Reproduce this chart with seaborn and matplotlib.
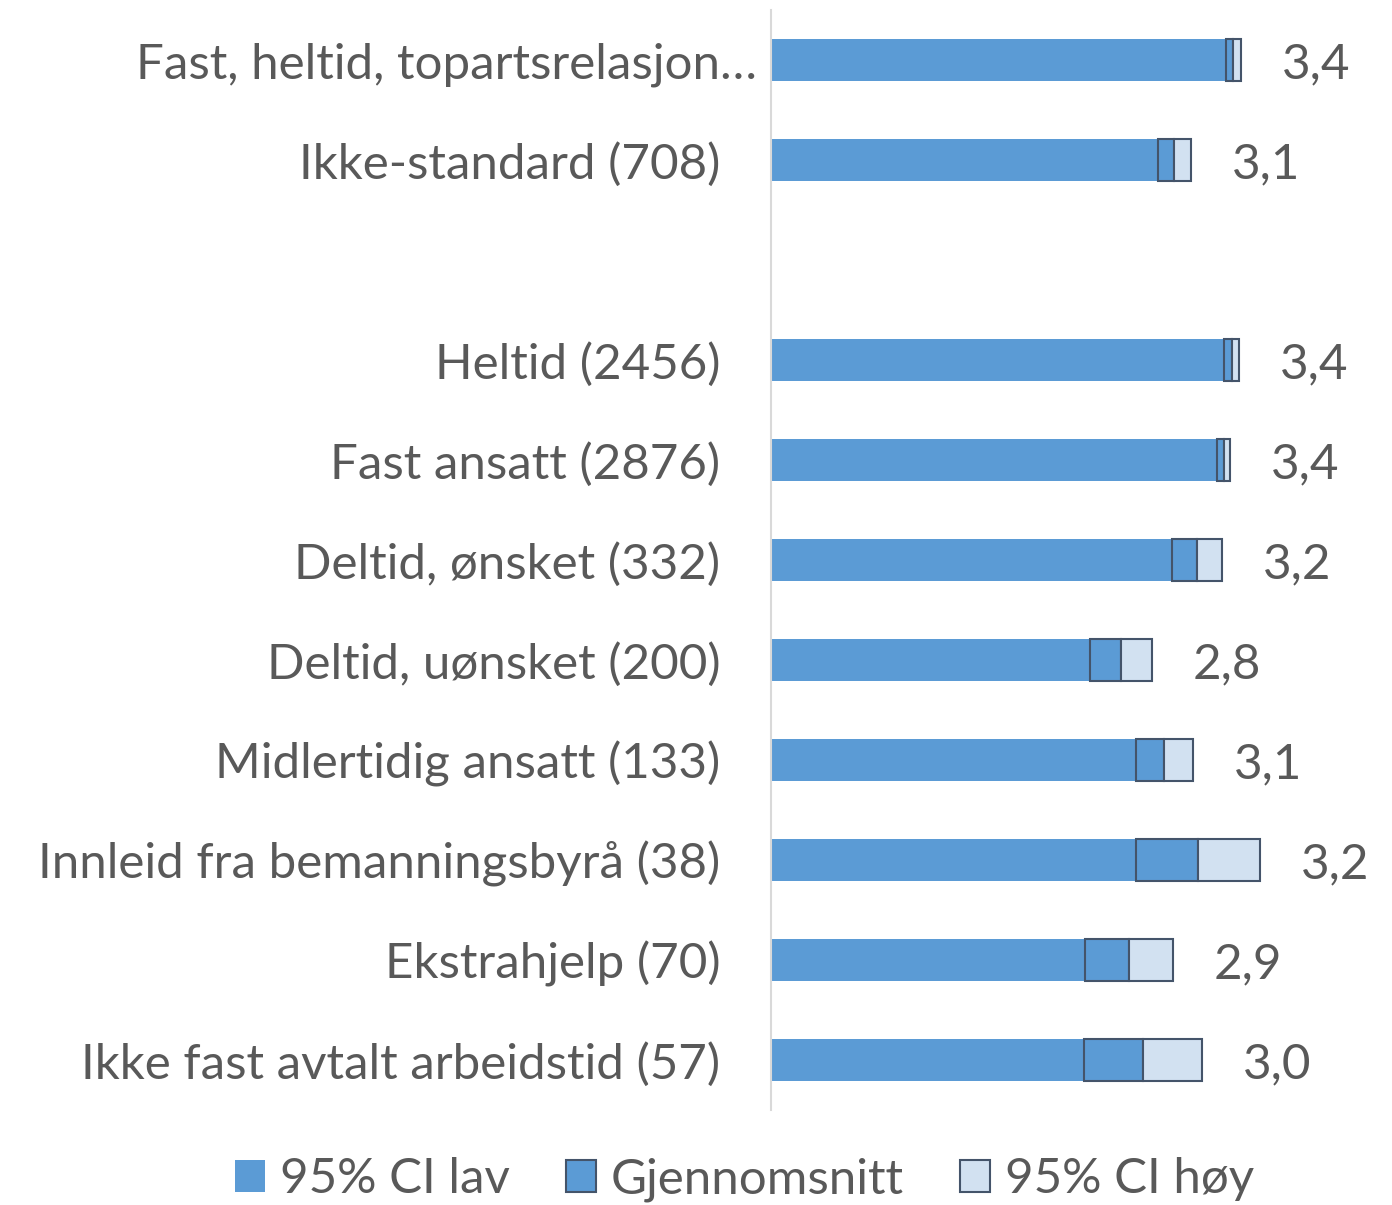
import pandas as pd
import seaborn as sns
import matplotlib.pyplot as plt
from matplotlib.patches import Patch
from matplotlib.transforms import ScaledTranslation

# kategorier (tom streng = mellomrom i diagrammet)
kategorier = [
    "Fast, heltid, topartsrelasjon…",
    "Ikke-standard (708)",
    " ",
    "Heltid (2456)",
    "Fast ansatt (2876)",
    "Deltid, ønsket (332)",
    "Deltid, uønsket (200)",
    "Midlertidig ansatt (133)",
    "Innleid fra bemanningsbyrå (38)",
    "Ekstrahjelp (70)",
    "Ikke fast avtalt arbeidstid (57)",
]
ci_lav = [3.395, 3.037, None, 3.384, 3.347, 3.111, 2.679, 2.921, 2.921, 2.653, 2.647]
snitt = [3.432, 3.121, None, 3.426, 3.384, 3.242, 2.842, 3.068, 3.247, 2.884, 2.958]
ci_hoy = [3.474, 3.211, None, 3.463, 3.416, 3.374, 3.005, 3.221, 3.574, 3.116, 3.268]

akse_min, akse_max = 1, 4

df = pd.DataFrame({"kategori": kategorier, "lav": ci_lav, "snitt": snitt, "hoy": ci_hoy})
df = df.dropna().reset_index(drop=True)
df["seg1"] = df["lav"] - akse_min
df["seg2"] = df["snitt"] - df["lav"]
df["seg3"] = df["hoy"] - df["snitt"]

sns.set_theme(style="white")
plt.rcParams['font.family'] = ['Lato', 'DejaVu Sans']
tekst = '#595959'
blaa = '#5B9BD5'
lys = '#D2E1F1'
kant = '#44546A'
fs = 35.5

fig = plt.figure(figsize=(13.92, 12.05), dpi=100)
ax = fig.add_axes([0.554, 0.0788, 0.409, 0.9129])

# tre stablede segmenter
sns.barplot(data=df, y="kategori", x="seg1", order=kategorier, orient="h",
            color=blaa, saturation=1, width=0.42, left=akse_min,
            linewidth=0, ax=ax)
sns.barplot(data=df, y="kategori", x="seg2", order=kategorier, orient="h",
            color=blaa, saturation=1, width=0.42, left=df["lav"].values,
            edgecolor=kant, linewidth=1.5, ax=ax)
sns.barplot(data=df, y="kategori", x="seg3", order=kategorier, orient="h",
            color=lys, saturation=1, width=0.42, left=df["snitt"].values,
            edgecolor=kant, linewidth=1.5, ax=ax)

# dataetiketter (gjennomsnitt)
for i, rad in df.iterrows():
    ypos = kategorier.index(rad["kategori"])
    ax.annotate(f"{rad['snitt']:.1f}".replace('.', ','), xy=(rad["hoy"], ypos),
                xytext=(29.5, 0), textcoords='offset points',
                ha='left', va='center_baseline', fontsize=fs, color=tekst)

ax.set_xlim(akse_min, akse_max)
ax.set_ylim(len(kategorier) - 0.5, -0.5)
ax.set_xlabel("")
ax.set_ylabel("")
ax.xaxis.set_visible(False)
for s in ['top', 'right', 'bottom']:
    ax.spines[s].set_visible(False)
ax.spines['left'].set_color('#D9D9D9')
ax.spines['left'].set_linewidth(1.5)
ax.tick_params(axis='y', length=0, pad=36.5, labelsize=fs, labelcolor=tekst)

# den avkortede etiketten går lenger mot høyre
forste = ax.get_yticklabels()[0]
forste.set_transform(forste.get_transform() + ScaledTranslation(37 / 100, 0, fig.dpi_scale_trans))

handles = [
    Patch(facecolor=blaa, edgecolor='none', label='95% CI lav'),
    Patch(facecolor=blaa, edgecolor=kant, linewidth=1.5, label='Gjennomsnitt'),
    Patch(facecolor=lys, edgecolor=kant, linewidth=1.5, label='95% CI høy'),
]
fig.legend(handles=handles, loc='center', bbox_to_anchor=(0.535, 0.021), ncol=3,
           frameon=False, fontsize=fs, labelcolor=tekst,
           handlelength=0.6, handleheight=0.6, handletextpad=0.3, columnspacing=1.15)

plt.savefig('out.png', dpi=100)
